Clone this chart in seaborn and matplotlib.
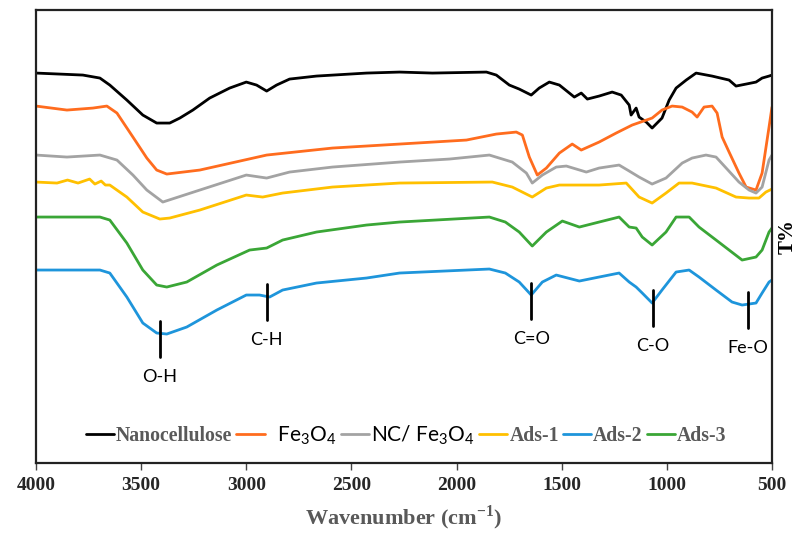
import numpy as np
import pandas as pd
import matplotlib
matplotlib.use("Agg")
import matplotlib.pyplot as plt
import seaborn as sns

# FTIR spectra (wavenumber in cm-1, transmittance in arbitrary stacked units)
nc_wn = [4000, 3777, 3696, 3649, 3568, 3492, 3426, 3364, 3316, 3254, 3174, 3079, 3000, 2951, 2903,
         2856, 2794, 2666, 2428, 2271, 2115, 1858, 1811, 1749, 1702, 1645, 1607, 1559, 1511, 1440,
         1407, 1378, 1322, 1260, 1217, 1179, 1170, 1146, 1132, 1098, 1070, 1023, 989, 956, 908,
         861, 785, 704, 671, 623, 576, 547, 514, 500]
nc_t = [390, 388, 385, 378, 363, 348, 340, 340, 345, 353, 365, 375, 381, 378, 372,
        378, 384, 387, 390, 391, 390, 391, 388, 378, 374, 368, 375, 381, 378, 366,
        370, 364, 367, 371, 368, 358, 348, 355, 346, 341, 335, 345, 363, 375, 383,
        390, 387, 383, 377, 379, 381, 385, 387, 388]

fe_wn = [4000, 3853, 3729, 3663, 3615, 3539, 3473, 3426, 3378, 3221, 2903, 2590, 2271, 1953, 1811,
         1716, 1687, 1654, 1616, 1573, 1511, 1450, 1407, 1322, 1241, 1165, 1070, 1023, 975, 927,
         880, 856, 823, 785, 761, 737, 704, 657, 623, 576, 547, 514, 500]
fe_t = [357, 353, 355, 357, 350, 326, 305, 293, 289, 293, 308, 315, 319, 323, 329,
        331, 328, 306, 288, 295, 310, 319, 313, 321, 330, 338, 345, 353, 357, 356,
        351, 346, 356, 357, 350, 326, 311, 290, 276, 273, 290, 336, 356]

ncfe_wn = [4000, 3853, 3696, 3615, 3539, 3473, 3397, 3221, 3000, 2903, 2794, 2590, 2271, 2034, 1844,
           1735, 1668, 1640, 1592, 1526, 1478, 1383, 1322, 1227, 1179, 1132, 1070, 1004, 927, 880,
           814, 766, 718, 657, 609, 576, 547, 514, 500]
ncfe_t = [308, 306, 308, 303, 288, 273, 261, 273, 288, 285, 291, 296, 301, 304, 308,
          301, 290, 280, 288, 296, 297, 291, 295, 298, 292, 286, 279, 285, 300, 305,
          308, 306, 295, 281, 273, 270, 276, 303, 308]

ads1_wn = [4000, 3900, 3850, 3800, 3745, 3720, 3690, 3670, 3649, 3568, 3492, 3411, 3364, 3221, 3000,
           2922, 2827, 2590, 2271, 1830, 1735, 1640, 1573, 1511, 1322, 1193, 1132, 1070, 1004, 942,
           880, 766, 671, 609, 562, 529, 500]
ads1_t = [281, 280, 283, 280, 284, 279, 282, 278, 278, 266, 251, 244, 245, 253, 268,
          266, 270, 276, 280, 281, 276, 266, 275, 278, 278, 280, 266, 260, 270, 280,
          280, 275, 266, 265, 265, 271, 274]

ads2_wn = [4000, 3696, 3649, 3568, 3492, 3426, 3378, 3283, 3140, 3000, 2937, 2889, 2827, 2666, 2428,
           2271, 1844, 1768, 1702, 1645, 1592, 1526, 1416, 1322, 1227, 1179, 1146, 1117, 1070, 1023,
           956, 894, 847, 766, 690, 642, 576, 547, 514, 500]
ads2_t = [193, 193, 190, 166, 140, 130, 129, 136, 153, 168, 168, 166, 173, 180, 185,
          190, 194, 190, 181, 168, 181, 188, 182, 186, 190, 181, 176, 170, 160, 173,
          191, 193, 186, 173, 161, 158, 160, 170, 181, 183]

ads3_wn = [4000, 3696, 3649, 3568, 3492, 3426, 3378, 3283, 3140, 2984, 2903, 2827, 2666, 2428, 2271,
           1844, 1768, 1702, 1640, 1573, 1497, 1416, 1322, 1227, 1179, 1146, 1117, 1070, 1004, 956,
           894, 847, 766, 704, 642, 576, 547, 514, 500]
ads3_t = [246, 246, 243, 220, 193, 178, 176, 181, 198, 213, 215, 223, 231, 238, 241,
          246, 241, 231, 217, 231, 242, 236, 241, 246, 236, 235, 226, 218, 231, 246,
          246, 236, 223, 213, 203, 206, 213, 231, 235]

sample_names = ["Nanocellulose", "  Fe$_3$O$_4$", "NC/ Fe$_3$O$_4$", "Ads-1", "Ads-2", "Ads-3"]
sample_colors = ["#000000", "#FF6C1E", "#A3A3A3", "#FFC000", "#1E95DB", "#3AA636"]

band_wn = [3411, 2903, 1644, 1065, 614]
band_labels = ["O-H", "C-H", "C=O", "C-O", "Fe-O"]

series = [(nc_wn, nc_t), (fe_wn, fe_t), (ncfe_wn, ncfe_t),
          (ads1_wn, ads1_t), (ads2_wn, ads2_t), (ads3_wn, ads3_t)]
frames = [pd.DataFrame({"wavenumber": w, "T": t, "sample": name})
          for (w, t), name in zip(series, sample_names)]
spectra = pd.concat(frames, ignore_index=True)

sns.set_style("white")
serif = "Liberation Serif"
sans = "Lato"
plt.rcParams["font.family"] = [serif, "DejaVu Serif"]
plt.rcParams["mathtext.fontset"] = "custom"
plt.rcParams["mathtext.rm"] = sans

fig = plt.figure(figsize=(7.98, 5.36), dpi=100)
ax = fig.add_axes([0.0451, 0.1362, 0.9223, 0.845])

sns.lineplot(data=spectra, x="wavenumber", y="T", hue="sample",
             palette=dict(zip(sample_names, sample_colors)), hue_order=sample_names,
             sort=False, estimator=None, legend=False, linewidth=2, ax=ax)

handles = list(ax.lines[:len(sample_names)])

# band markers under the Ads-2 trace
ads2_order = np.argsort(ads2_wn)
for wn, lab in zip(band_wn, band_labels):
    base = np.interp(wn, np.array(ads2_wn)[ads2_order], np.array(ads2_t)[ads2_order])
    ax.plot([wn, wn], [base + 12, base - 24], color="black", lw=2)
    ax.text(wn, base - 44, lab, ha="center", va="center", fontsize=13,
            family=sans, color="black")

ax.set_xlim(4000, 500)
ax.set_ylim(0, 453)
ax.set_xticks(np.arange(4000, 499, -500))
ax.set_yticks([])
ax.tick_params(axis="x", bottom=True, length=5, width=1, color="#444444",
               labelsize=14, pad=5)
for lbl in ax.get_xticklabels():
    lbl.set_fontweight("bold")

for sp in ax.spines.values():
    sp.set_color("#222222")
    sp.set_linewidth(1.6)

ax.set_xlabel("Wavenumber (cm$^{\\mathregular{-1}}$)", fontsize=16, fontweight="bold",
              color="#595959", labelpad=7)
ax.yaxis.set_label_position("right")
ax.set_ylabel("T%", fontsize=15, fontweight="bold", color="black", labelpad=4)

leg = ax.legend(handles, sample_names, ncol=6, frameon=False, loc="center",
                bbox_to_anchor=(0.503, 0.062), handlelength=1.45, handletextpad=0.12,
                columnspacing=0.2, borderaxespad=0, prop={"size": 14})
for txt in leg.get_texts():
    if "Fe" in txt.get_text():
        txt.set_family(sans)
        txt.set_fontsize(15)
        txt.set_color("black")
    else:
        txt.set_family(serif)
        txt.set_fontweight("bold")
        txt.set_fontsize(14.2)
        txt.set_color("#595959")

fig.savefig("out.png", dpi=100)
